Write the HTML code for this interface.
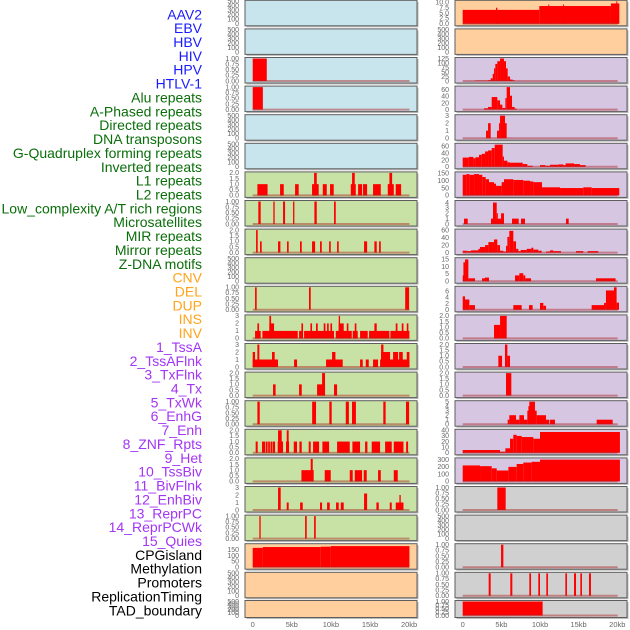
<!DOCTYPE html>
<html><head><meta charset="utf-8"><style>
html,body{margin:0;padding:0;background:#fff;}
svg{display:block;font-family:"Liberation Sans",sans-serif;}
</style></head><body>
<svg id="chart" width="630" height="630" viewBox="0 0 630 630"></svg>
<script>
const labels = ["AAV2","EBV","HBV","HIV","HPV","HTLV-1","Alu repeats","A-Phased repeats","Directed repeats","DNA transposons","G-Quadruplex forming repeats","Inverted repeats","L1 repeats","L2 repeats","Low_complexity A/T rich regions","Microsatellites","MIR repeats","Mirror repeats","Z-DNA motifs","CNV","DEL","DUP","INS","INV","1_TssA","2_TssAFlnk","3_TxFlnk","4_Tx","5_TxWk","6_EnhG","7_Enh","8_ZNF_Rpts","9_Het","10_TssBiv","11_BivFlnk","12_EnhBiv","13_ReprPC","14_ReprPCWk","15_Quies","CPGisland","Methylation","Promoters","ReplicationTiming","TAD_boundary"];
const labelGroups = [6,13,5,15,5];
const groupColors = ["#1a1aff","#0a6e0a","#ffa41c","#a335f5","#000000"];
const xTicks = [0,5,10,15,20];
const xTickLabels = ["0","5kb","10kb","15kb","20kb"];

// segments: [startKb, endKb, value]
const L_r2 = [[0,1.8,1]];
const L_r3 = [[0,1.3,1]];
const L_alu = [[0.6,1.9,1],[3.5,3.97,1],[5.42,5.88,1],[7.59,8.44,1],[7.85,8.19,2],[8.96,9.47,1],[9.89,10.36,1],[12.54,13.18,1],[12.71,13.05,2],[13.48,13.99,1],[14.11,14.63,1],[15.39,16.38,1],[17.27,18.04,1],[17.48,17.83,2],[18.29,18.98,1]];
const L_aphased = [[0.72,1.02,1],[2.64,2.81,1],[3.88,4.14,1],[5.16,5.33,1],[7.89,8.19,1],[10.4,10.62,1]];
const L_directed = [[0.43,0.64,2],[0.94,1.15,1],[3.24,3.54,1],[4.39,4.6,1],[6.05,6.27,1],[7.59,7.98,1],[8.61,8.83,1],[9.77,9.98,1],[10.79,11.0,1],[14.24,14.63,1],[15.56,15.86,1],[16.16,16.38,1]];
const L_gquad = [[0.3,0.51,1],[7.2,7.42,1],[19.5,20.0,1]];
const L_inverted = [[0.3,1.02,1],[1.24,5.76,1],[5.93,6.4,1],[6.57,10.4,1],[10.62,12.67,1],[12.79,13.43,1],[13.73,14.71,1],[14.88,17.48,1],[17.61,20.04,1],[0.6,0.81,2],[2.13,2.73,2],[6.23,6.44,2],[7.38,7.59,2],[8.1,8.32,2],[9.08,9.3,2],[9.51,9.72,2],[9.94,10.15,2],[11.0,11.64,2],[12.03,12.24,2],[13.05,13.26,2],[15.56,15.86,2],[18.29,18.51,2],[19.06,19.28,2],[19.7,19.91,2],[2.13,2.35,3],[11.0,11.17,3]];
const L_l1 = [[0,3.24,1],[5.29,5.67,1],[9.38,11.51,1],[13.73,14.07,1],[14.46,14.84,1],[15.39,16.03,1],[16.29,20.04,1],[0,0.3,2],[0.6,0.85,3],[2.47,2.81,2],[10.15,10.58,2],[16.42,17.57,2],[17.95,18.59,2],[18.72,19.19,2],[19.7,20.04,2],[16.42,16.72,3]];
const L_l2 = [[2.6,2.93,1],[5.93,6.27,1],[8.23,9.25,1],[8.87,9.25,2],[10.4,10.79,1]];
const L_lowc = [[0.6,0.9,1],[7.6,8.1,1],[9.8,10.1,1],[11.9,12.3,1],[12.7,13.2,1],[16.7,17.0,1],[19.6,20.0,1]];
const L_micro = [[0.38,0.64,1],[1.19,1.6,1],[1.68,1.9,1],[1.98,2.2,1],[2.28,2.5,1],[2.56,2.86,1],[3.2,3.88,1],[3.24,3.71,2],[4.26,4.65,1],[4.35,4.6,2],[5.25,5.67,1],[5.97,6.27,1],[7.16,7.42,1],[7.72,8.49,1],[8.91,9.77,1],[10.79,12.41,1],[12.75,13.73,1],[14.37,14.67,1],[15.22,16.29,1],[16.93,17.78,1],[18.04,19.28,1],[19.62,19.87,1]];
const L_mir = [[6.23,7.8,1],[7.42,7.68,2],[9.21,9.98,1],[12.41,12.79,1],[13.05,13.99,1],[14.2,14.58,1],[16.03,16.38,1],[18.04,18.55,1]];
const L_mirror = [[3.24,3.58,3],[4.35,4.6,1],[6.06,6.4,1],[8.61,8.87,1],[9.51,9.85,1],[10.66,11.0,1],[11.26,11.64,1],[14.24,14.63,2.2],[15.82,16.12,1],[17.53,17.78,1],[18.29,19.28,1],[18.76,18.93,2]];
const L_zdna = [[0.85,1.02,1],[6.7,6.91,1],[7.85,8.06,1]];
const L_cpg = [[0,1.3,165],[1.3,8.7,172],[8.7,10.0,175],[10.0,20.04,180]];
const R_repl = [[0,9.91,6.5],[4.31,4.48,7.5],[9.91,19.18,8.3],[11.08,11.2,9],[12.97,13.1,9],[19.18,20.26,9.5],[19.87,20.0,10.5]];
const R_r2 = [[1.59,3.32,2],[3.32,3.62,5],[3.62,3.88,15],[3.88,4.05,40],[4.05,4.22,70],[4.22,4.48,95],[4.48,4.83,110],[4.83,5.34,125],[5.34,5.6,110],[5.6,5.82,70],[5.82,6.12,25],[6.12,6.47,8],[6.47,6.72,4]];
const R_r3 = [[2.76,3.28,4],[3.28,3.75,8],[3.75,4.48,38],[4.48,4.83,28],[4.83,5.13,15],[5.13,5.52,5],[5.52,5.69,35],[5.69,6.12,68],[6.12,6.38,42],[6.38,6.72,8],[6.72,6.98,3]];
const R_r4 = [[3.02,3.28,1],[3.28,3.62,2],[4.44,4.7,1],[4.7,4.83,2],[4.83,5.47,3],[5.47,5.69,2]];
const R_r5 = [[0,0.78,27],[0.78,1.38,29],[1.38,1.64,25],[1.64,2.11,28],[2.11,2.46,35],[2.46,2.89,38],[2.89,3.28,45],[3.28,3.75,48],[3.75,4.14,55],[4.14,5.17,65],[5.17,5.34,30],[5.34,5.78,18],[5.78,6.12,13],[6.12,7.76,12],[7.76,8.36,8],[8.36,9.05,3],[10.0,10.69,5],[10.69,11.29,3],[11.29,12.37,6],[12.37,13.02,7],[13.02,13.32,5],[13.32,14.4,10],[14.4,15.17,8],[15.17,15.9,5]];
const R_r6 = [[0,0.47,140],[0.47,0.86,145],[0.86,1.47,140],[1.47,2.11,145],[2.11,2.54,140],[2.54,2.97,125],[2.97,3.4,110],[3.4,4.05,90],[4.05,4.31,80],[4.31,5.04,65],[5.04,5.34,90],[5.34,6.55,110],[6.55,7.84,105],[7.84,8.71,100],[8.71,9.14,95],[9.14,10.26,90],[10.26,12.59,55],[12.59,15.6,50],[15.6,16.68,55],[16.68,20.26,50]];
const R_r7 = [[0.17,0.65,1],[3.66,5.34,1],[3.92,4.4,4],[4.4,4.55,2],[4.96,5.34,2],[6.38,7.24,1],[7.54,8.06,1],[13.36,13.71,1]];
const R_r8 = [[0,0.52,5],[0.52,1.08,4],[1.08,2.03,6],[2.03,2.24,10],[2.24,2.89,15],[2.89,3.32,20],[3.32,4.05,28],[4.05,4.48,35],[4.48,4.83,20],[4.83,5.26,5],[5.26,5.6,3],[5.6,5.78,18],[5.78,6.03,42],[6.03,6.55,58],[6.55,6.9,30],[6.9,7.2,10],[7.2,7.5,4],[7.5,8.28,7],[8.28,8.88,10],[8.88,9.14,13],[9.14,9.78,8],[9.78,10.22,5],[10.78,11.29,3],[11.29,11.72,6],[11.72,12.72,4],[14.66,15.6,4],[16.16,17.54,4]];
const R_r9 = [[0,0.09,4],[0.09,0.3,13],[0.3,0.73,15],[0.73,1.59,2],[2.5,3.4,2],[2.89,3.4,2.5],[6.77,7.33,4],[7.33,7.84,5.5],[7.84,8.1,4],[8.1,8.84,2],[17.24,19.78,2]];
const R_r10 = [[0,0.3,4.3],[0.3,0.86,3.3],[0.86,1.59,1.5],[6.55,7.63,1.5],[8.58,9.05,1.5],[10.0,10.43,2.2],[10.43,10.78,1.3],[16.68,18.28,1.5],[18.28,18.53,2.2],[18.53,19.57,6.2],[19.57,19.91,7.2],[19.91,20.22,2.3]];
const R_r11 = [[4.05,4.83,1.2],[4.83,5.69,2]];
const R_r12 = [[4.61,5.09,1],[5.47,5.78,2],[5.78,6.12,1]];
const R_r13 = [[5.6,6.29,2]];
const R_r14 = [[5.82,6.03,1],[6.03,6.9,2],[6.9,7.33,1],[7.33,7.93,2],[7.93,8.36,1],[8.36,8.62,3],[8.5,8.7,4],[8.62,9.35,5],[9.35,9.57,3],[9.57,10.78,2],[10.78,11.2,1],[11.29,11.94,1],[17.33,19.4,1]];
const R_r15 = [[0,4.83,5],[4.83,5.52,2],[5.52,6.12,8],[6.12,6.55,25],[6.55,6.98,32],[6.98,7.63,30],[7.63,9.14,28],[9.14,10.0,25],[10.0,20.34,37]];
const R_r16 = [[0,2.24,220],[2.24,3.75,210],[3.75,4.4,180],[4.4,5.91,150],[5.91,6.98,200],[6.98,7.84,240],[7.84,8.92,260],[8.92,10.0,270],[10.0,20.34,300]];
const R_r17 = [[4.48,5.56,1]];
const R_r19 = [[4.96,5.26,1]];
const R_r20 = [[3.36,3.62,1],[6.16,6.42,1],[8.62,8.84,1],[9.78,10.0,1],[10.82,11.03,1],[13.28,13.49,1],[14.4,14.66,1],[15.22,15.43,1],[16.34,16.59,1]];
const R_r21 = [[0,10.34,1]];

const T_EMPTY=[0,100,200,300,400,500], T_BIN=[0,0.25,0.5,0.75,1], T_TWO=[0,0.5,1,1.5,2], T_THREE=[0,1,2,3];
const BLUE="#c8e4ec", GREEN="#c8e2a6", ORANGE="#ffd09e", PURPLE="#d6c6e2", GRAY="#d0d0d0";

const tracks = [
 // left column
 [0,0,BLUE,[],T_EMPTY,500,0],[0,1,BLUE,[],T_EMPTY,500,0],[0,2,BLUE,L_r2,T_BIN,1,2],[0,3,BLUE,L_r3,T_BIN,1,2],
 [0,4,BLUE,[],T_EMPTY,500,0],[0,5,BLUE,[],T_EMPTY,500,0],
 [0,6,GREEN,L_alu,T_TWO,2,1],[0,7,GREEN,L_aphased,T_BIN,1,2],[0,8,GREEN,L_directed,T_TWO,2,1],[0,9,GREEN,[],T_EMPTY,500,0],
 [0,10,GREEN,L_gquad,T_BIN,1,2],[0,11,GREEN,L_inverted,T_THREE,3,0],[0,12,GREEN,L_l1,T_THREE,3,0],[0,13,GREEN,L_l2,T_TWO,2,1],
 [0,14,GREEN,L_lowc,T_BIN,1,2],[0,15,GREEN,L_micro,T_TWO,2,1],[0,16,GREEN,L_mir,T_TWO,2,1],[0,17,GREEN,L_mirror,T_THREE,3,0],
 [0,18,GREEN,L_zdna,T_BIN,1,2],[0,19,ORANGE,L_cpg,[0,50,100,150],192,0],[0,20,ORANGE,[],T_EMPTY,500,0],[0,21,ORANGE,[],T_EMPTY,500,0],
 // right column
 [1,0,ORANGE,R_repl,[0,2.5,5,7.5,10],10.5,1],[1,1,ORANGE,[],T_EMPTY,500,0],
 [1,2,PURPLE,R_r2,[0,25,50,75,100,125],125,0],[1,3,PURPLE,R_r3,[0,20,40,60],68,0],[1,4,PURPLE,R_r4,T_THREE,3,0],
 [1,5,PURPLE,R_r5,[0,20,40,60],66,0],[1,6,PURPLE,R_r6,[0,50,100,150],153,0],[1,7,PURPLE,R_r7,[0,1,2,3,4],4.2,0],
 [1,8,PURPLE,R_r8,[0,20,40,60],60,0],[1,9,PURPLE,R_r9,[0,5,10,15],15.5,0],[1,10,PURPLE,R_r10,[0,2,4,6],7.2,0],
 [1,11,PURPLE,R_r11,T_TWO,2,1],[1,12,PURPLE,R_r12,T_TWO,2,1],[1,13,PURPLE,R_r13,T_TWO,2,1],[1,14,PURPLE,R_r14,[0,1,2,3,4,5],5,0],
 [1,15,PURPLE,R_r15,[0,10,20,30,40],40,0],[1,16,PURPLE,R_r16,[0,100,200,300],310,0],
 [1,17,GRAY,R_r17,T_BIN,1,2],[1,18,GRAY,[],T_EMPTY,500,0],[1,19,GRAY,R_r19,T_BIN,1,2],[1,20,GRAY,R_r20,T_BIN,1,2],[1,21,GRAY,R_r21,T_BIN,1,2]
];

const NS="http://www.w3.org/2000/svg";
const svg=document.getElementById('chart');
function mk(tag,attrs,parent){const e=document.createElementNS(NS,tag);for(const k in attrs)e.setAttribute(k,attrs[k]);(parent||svg).appendChild(e);return e;}
const colGeom=[{px:245,w:172,x0:252.7,k:7.82,tx:239},{px:455,w:172,x0:462.7,k:7.73,tx:449}];
function xScale(c,kb){return colGeom[c].x0+kb*colGeom[c].k;}
function rowTop(r){return r===21?600.5:r*28.6+0.3;}
function rowH(r){return r===21?17:25.5;}

// labels
let li=0;
labelGroups.forEach((n,g)=>{for(let j=0;j<n;j++){const t=mk('text',{x:202,y:(19.3+li*13.86).toFixed(1),'text-anchor':'end','font-size':'14',fill:groupColors[g]});
 t.textContent=labels[li];
 
 
 li++;}});

tracks.forEach((tr,i)=>{
 const [c,r,bg,data,ticks,ymax,dec]=tr;
 const g=colGeom[c], top=rowTop(r), h=rowH(r);
 const y0=top+h-2, y1=top+1;
 const ys=v=>y0-(v/ymax)*(y0-y1);
 const grp=mk('g',{});
 
 
 mk('rect',{x:g.px+1.5,y:top+1.5,width:g.w,height:h,fill:'#bbbbbb'},grp);
 const bgr=mk('rect',{x:g.px,y:top,width:g.w,height:h,fill:bg,stroke:'#5e5e5e','stroke-width':1},grp);
 
 
 data.forEach(s=>{
  const xa=xScale(c,s[0]), xb=xScale(c,s[1]);
  const b=mk('rect',{x:xa.toFixed(2),y:ys(s[2]).toFixed(2),width:Math.max(0.8,xb-xa).toFixed(2),height:(y0-ys(s[2])).toFixed(2),fill:'#ff0000'},grp);
  
  
 });
 if(data.length){const bl=mk('line',{x1:xScale(c,0),x2:xScale(c,20.05),y1:y0,y2:y0,stroke:'rgba(170,30,30,0.45)','stroke-width':2},grp);
  
  }
 ticks.forEach(v=>{const t=mk('text',{x:g.tx,y:(ys(v)+2.3).toFixed(2),'text-anchor':'end','font-size':'7',fill:'#666'},grp);
  t.textContent=v.toFixed(dec);
  
  });
});
// x axes
[0,1].forEach(c=>{xTicks.forEach((v,i)=>{const t=mk('text',{x:xScale(c,v).toFixed(1),y:627,'text-anchor':'middle','font-size':'7.5',fill:'#666'});
 t.textContent=xTickLabels[i];
 
 });});
</script>
</body></html>
